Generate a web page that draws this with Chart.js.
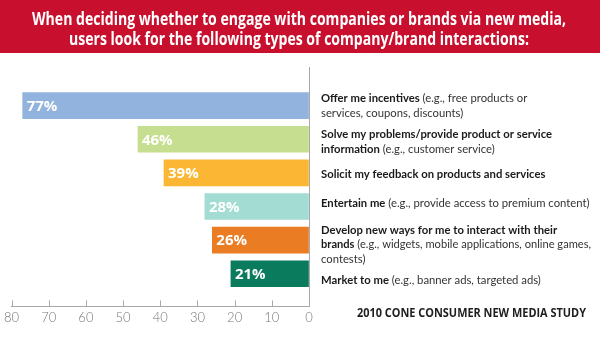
<!DOCTYPE html>
<html>
<head>
<meta charset="utf-8">
<script src="https://cdn.jsdelivr.net/npm/chart.js@4/dist/chart.umd.min.js"></script>
<style>
  html, body { margin: 0; padding: 0; background: #fff; }
  #wrap { width: 600px; height: 347px; }
</style>
</head>
<body>
<div id="wrap"><canvas id="interactions" width="600" height="347"></canvas></div>
<script>
// ====== Data ======
const titleLines = [
  'When deciding whether to engage with companies or brands via new media,',
  'users look for the following types of company/brand interactions:'
];
const sourceNote = '2010 CONE CONSUMER NEW MEDIA STUDY';

// each category: lines of [bold part, regular part]
const categories = [
  [['Offer me incentives', ' (e.g., free products or'], ['', 'services, coupons, discounts)']],
  [['Solve my problems/provide product or service', ''], ['information', ' (e.g., customer service)']],
  [['Solicit my feedback on products and services', '']],
  [['Entertain me', ' (e.g., provide access to premium content)']],
  [['Develop new ways for me to interact with their', ''], ['brands', ' (e.g., widgets, mobile applications, online games,'], ['', 'contests)']],
  [['Market to me', ' (e.g., banner ads, targeted ads)']]
];
const values = [77, 46, 39, 28, 26, 21];
const barColors = ['#93b3df', '#c6de8f', '#fbb634', '#a2dcd3', '#ea7c23', '#0a7b5d'];
const xTicks = { min: 0, max: 80, step: 10 };

// small vertical nudges for the text blocks on the right
const labelShift = [0, 2.5, 1.7, -3.6, 4, 6];

// ====== Header band + footer ======
const headerPlugin = {
  id: 'header',
  beforeDraw(chart) {
    const ctx = chart.ctx;
    ctx.save();
    ctx.fillStyle = '#fff';
    ctx.fillRect(0, 0, chart.width, chart.height);
    ctx.fillStyle = '#c8102e';
    ctx.fillRect(0, 0, chart.width, 53);
    ctx.fillStyle = '#fff';
    ctx.font = 'bold 17px "Open Sans"';
    ctx.textAlign = 'center';
    ctx.textBaseline = 'middle';
    ctx.fillText(titleLines[0], 299, 20, 534);
    ctx.fillText(titleLines[1], 299, 40, 460);
    ctx.restore();
  },
  afterDraw(chart) {
    const ctx = chart.ctx;
    ctx.save();
    ctx.fillStyle = '#1e1e1e';
    ctx.font = 'bold 12.5px "Open Sans"';
    ctx.textAlign = 'right';
    ctx.textBaseline = 'middle';
    ctx.fillText(sourceNote, 586, 313, 229);
    ctx.restore();
  }
};

// ====== Tick marks pointing up from the bottom axis ======
const innerTicks = {
  id: 'innerTicks',
  afterDraw(chart) {
    const x = chart.scales.x;
    const bottom = chart.chartArea.bottom;
    const ctx = chart.ctx;
    ctx.save();
    ctx.strokeStyle = '#a8a8a8';
    ctx.lineWidth = 1;
    x.ticks.forEach(t => {
      const px = Math.round(x.getPixelForValue(t.value)) + 0.5;
      ctx.beginPath();
      ctx.moveTo(px, bottom - 6);
      ctx.lineTo(px, bottom);
      ctx.stroke();
    });
    ctx.restore();
  }
};

// ====== Percent labels inside bars + category text on the right ======
const boldFont = 'bold 12px Lato';
const regFont = '12px Lato';

const barText = {
  id: 'barText',
  afterDatasetsDraw(chart) {
    const ctx = chart.ctx;
    const meta = chart.getDatasetMeta(0);
    const textX = chart.chartArea.right + 12;
    const maxW = 270;
    ctx.save();
    ctx.textAlign = 'left';
    ctx.textBaseline = 'middle';
    meta.data.forEach((bar, i) => {
      ctx.fillStyle = '#fff';
      ctx.font = 'bold 15px "Open Sans"';
      ctx.fillText(values[i] + '%', bar.x + 4, bar.y + 1);

      const lines = categories[i];
      const lh = 14.5;
      let y = bar.y + labelShift[i] - (lines.length - 1) * lh / 2;
      lines.forEach(([b, r]) => {
        ctx.font = boldFont;
        const bw = b ? ctx.measureText(b).width : 0;
        ctx.font = regFont;
        const rw = r ? ctx.measureText(r).width : 0;
        const s = Math.min(0.94, maxW / (bw + rw));
        ctx.save();
        ctx.translate(textX, y);
        ctx.scale(s, 1);
        if (b) {
          ctx.font = boldFont;
          ctx.fillStyle = '#1a1a1a';
          ctx.fillText(b, 0, 0);
        }
        if (r) {
          ctx.font = regFont;
          ctx.fillStyle = '#333';
          ctx.fillText(r, bw, 0);
        }
        ctx.restore();
        y += lh;
      });
    });
    ctx.restore();
  }
};

new Chart(document.getElementById('interactions').getContext('2d'), {
  type: 'bar',
  data: {
    datasets: [{
      data: values.map((v, i) => ({ x: v, y: i })),
      backgroundColor: barColors,
      borderWidth: 0,
      barThickness: 26
    }]
  },
  options: {
    indexAxis: 'y',
    responsive: false,
    animation: false,
    layout: { padding: { left: 11, right: 283, top: 67, bottom: 17 } },
    plugins: { legend: { display: false }, tooltip: { enabled: false } },
    scales: {
      x: {
        type: 'linear',
        reverse: true,
        min: xTicks.min,
        max: xTicks.max,
        position: 'bottom',
        grid: { display: true, drawOnChartArea: false, drawTicks: false },
        border: { display: true, color: '#a8a8a8', width: 1 },
        ticks: {
          stepSize: xTicks.step,
          padding: 4,
          color: '#777',
          font: { family: 'Lato', size: 13, weight: '300' }
        }
      },
      y: {
        type: 'linear',
        reverse: true,
        offset: false,
        min: -1.15,
        max: 5.97,
        position: 'right',
        grid: { display: false },
        border: { display: true, color: '#a8a8a8', width: 1 },
        ticks: { display: false }
      }
    }
  },
  plugins: [headerPlugin, innerTicks, barText]
});
</script>
</body>
</html>
